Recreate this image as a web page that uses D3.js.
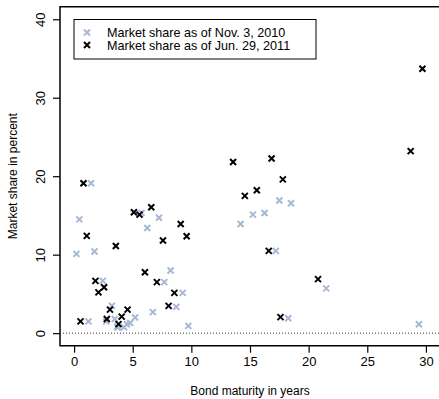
<!DOCTYPE html>
<html>
<head>
<meta charset="utf-8">
<script src="https://cdn.jsdelivr.net/npm/d3@7"></script>
<style>
  body { margin: 0; background: #fff; }
  text { font-family: "Liberation Sans", Arial, sans-serif; }
</style>
</head>
<body>
<svg id="chart"></svg>
<script>
// Market share as of Nov. 3, 2010 (maturity in years, share in percent)
const nov2010Maturity = [0.2, 0.45, 1.45, 1.74, 1.23, 2.45, 3.22, 2.74, 3.47, 3.68, 3.73, 4.25, 4.5, 4.78, 5.2,
  5.75, 6.24, 7.24, 7.69, 8.23, 6.72, 8.72, 9.26, 9.74,
  14.2, 15.25, 16.24, 17.5, 18.5, 17.2, 21.5, 18.26, 29.4];
const nov2010Share = [10.1, 14.5, 19.1, 10.4, 1.5, 6.66, 3.5, 1.5, 1.8, 0.85, 0.7, 0.76, 1.14, 1.3, 2.0,
  15.3, 13.4, 14.7, 6.5, 7.98, 2.68, 3.35, 5.13, 0.93,
  13.9, 15.1, 15.3, 16.9, 16.55, 10.48, 5.7, 1.9, 1.14];

// Market share as of Jun. 29, 2011
const jun2011Maturity = [0.8, 1.08, 3.56, 5.1, 5.58, 6.58, 7.58, 9.09, 9.6, 1.82, 2.08, 2.56, 0.55, 2.79, 3.06,
  3.79, 4.06, 4.56, 6.04, 7.06, 8.55, 8.06,
  14.56, 15.58, 17.8, 16.6, 20.8, 17.6, 13.56, 16.84, 28.7, 29.7];
const jun2011Share = [19.1, 12.4, 11.1, 15.4, 15.1, 16.05, 11.8, 13.9, 12.35, 6.66, 5.2, 5.85, 1.5, 1.8, 3.0,
  1.15, 2.1, 3.0, 7.77, 6.5, 5.13, 3.48,
  17.49, 18.2, 19.6, 10.48, 6.88, 2.04, 21.8, 22.25, 23.2, 33.7];

const xTicks = [0, 5, 10, 15, 20, 25, 30];
const yTicks = [0, 10, 20, 30, 40];
const legendLabels = ['Market share as of Nov. 3, 2010', 'Market share as of Jun. 29, 2011'];
const seriesColors = ['#a7b8d6', '#000000'];

const width = 439;
const height = 399;
const plot = { left: 60, right: 440, top: 6.7, bottom: 345.7 };

const svg = d3.select('#chart')
  .attr('width', width)
  .attr('height', height);

// R style 4% padding around 0-30 and 0-40
const xScale = d3.scaleLinear().domain([-1.2, 31.2]).range([plot.left, plot.right]);
const yScale = d3.scaleLinear().domain([-1.6, 41.6]).range([plot.bottom, plot.top]);

// dotted zero line
svg.append('line')
  .attr('x1', plot.left)
  .attr('x2', plot.right)
  .attr('y1', yScale(0))
  .attr('y2', yScale(0))
  .attr('stroke', '#333')
  .attr('stroke-width', 1)
  .attr('stroke-dasharray', '1,2');

// axes
const xAxis = d3.axisBottom(xScale)
  .tickValues(xTicks)
  .tickSize(7)
  .tickPadding(4)
  .tickFormat((d) => d);

const yAxis = d3.axisLeft(yScale)
  .tickValues(yTicks)
  .tickSize(7)
  .tickPadding(4)
  .tickFormat((d) => d);

const xAxisG = svg.append('g')
  .attr('transform', `translate(0,${plot.bottom})`)
  .call(xAxis);
xAxisG.select('.domain').remove();
xAxisG.selectAll('text').attr('font-size', 13).attr('fill', '#000');
xAxisG.selectAll('line').attr('stroke', '#000').attr('stroke-width', 1.2);

const yAxisG = svg.append('g')
  .attr('transform', `translate(${plot.left},0)`)
  .call(yAxis);
yAxisG.select('.domain').remove();
yAxisG.selectAll('line').attr('stroke', '#000').attr('stroke-width', 1.2);
yAxisG.selectAll('text')
  .attr('font-size', 13)
  .attr('fill', '#000')
  .attr('text-anchor', 'middle')
  .attr('dy', null)
  .attr('x', null)
  .attr('transform', 'translate(-15,0) rotate(-90)')
  .attr('y', 0);

// plot box (right side runs off the page)
svg.append('path')
  .attr('d', `M${plot.right},${plot.top}H${plot.left}V${plot.bottom}H${plot.right}`)
  .attr('fill', 'none')
  .attr('stroke', '#000')
  .attr('stroke-width', 1.5);

// axis titles
svg.append('text')
  .attr('x', (xScale(0) + xScale(30)) / 2)
  .attr('y', 395)
  .attr('text-anchor', 'middle')
  .attr('font-size', 12)
  .text('Bond maturity in years');

svg.append('text')
  .attr('transform', `translate(17,${(plot.top + plot.bottom) / 2}) rotate(-90)`)
  .attr('text-anchor', 'middle')
  .attr('font-size', 12)
  .text('Market share in percent');

// cross markers
const s = 3;
function drawCrosses(xs, ys, color) {
  const pts = xs.map((x, i) => [x, ys[i]]);
  svg.append('g')
    .selectAll('path')
    .data(pts)
    .join('path')
    .attr('d', (d) => {
      const cx = xScale(d[0]);
      const cy = yScale(d[1]);
      return `M${cx - s},${cy - s}L${cx + s},${cy + s}M${cx - s},${cy + s}L${cx + s},${cy - s}`;
    })
    .attr('stroke', color)
    .attr('stroke-width', 2)
    .attr('fill', 'none');
}
drawCrosses(nov2010Maturity, nov2010Share, seriesColors[0]);
drawCrosses(jun2011Maturity, jun2011Share, seriesColors[1]);

// legend
const legend = svg.append('g');
legend.append('rect')
  .attr('x', 74)
  .attr('y', 19.5)
  .attr('width', 242)
  .attr('height', 39.5)
  .attr('fill', '#fff')
  .attr('stroke', '#000')
  .attr('stroke-width', 1);

legendLabels.forEach((label, i) => {
  const ly = 32.5 + i * 12.5;
  const lx = 87;
  legend.append('path')
    .attr('d', `M${lx - s},${ly - s}L${lx + s},${ly + s}M${lx - s},${ly + s}L${lx + s},${ly - s}`)
    .attr('stroke', seriesColors[i])
    .attr('stroke-width', 2);
  legend.append('text')
    .attr('x', 107)
    .attr('y', ly)
    .attr('dy', '0.36em')
    .attr('font-size', 12.6)
    .text(label);
});
</script>
</body>
</html>
